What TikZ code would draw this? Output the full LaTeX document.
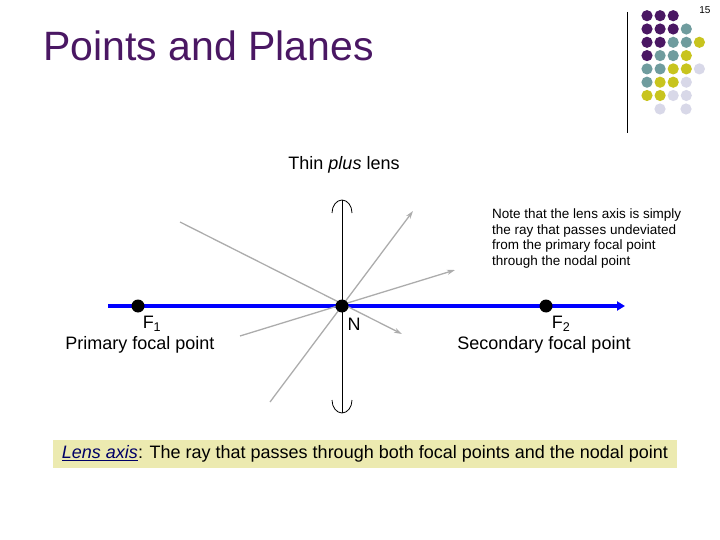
\documentclass[tikz,border=0pt]{standalone}
\usepackage{fontspec}
\setmainfont{Liberation Sans}
\usetikzlibrary{arrows.meta}
\begin{document}
\begin{tikzpicture}[x=1pt,y=-1pt,
  ray/.style={draw=gray!65,line width=1.3pt,-{Stealth[length=8pt,width=5pt]}},
  pt/.style={circle,fill=black,inner sep=0pt,minimum size=13pt},
  lbl/.style={font=\fontsize{18}{20}\selectfont,inner sep=0pt}]
\definecolor{cP}{HTML}{4A1763}\definecolor{cT}{HTML}{6F9C9E}
\definecolor{cY}{HTML}{C8C41E}\definecolor{cL}{HTML}{D8D8E8}
\useasboundingbox (0,0) rectangle (720,540);
\node[anchor=north east,font=\fontsize{10}{11}\selectfont] (pg) at (714,3) {15};
\node[anchor=west,text=cP,font=\fontsize{41}{44}\selectfont,inner sep=0pt] (title) at (43,46) {Points and Planes};
\draw[line width=0.8pt] (627,12) -- (627,133);
\foreach \r/\row in {0/{P,P,P},1/{P,P,P,T},2/{P,P,T,T,Y},3/{P,T,T,Y},4/{T,T,Y,Y,L},5/{T,Y,Y,L},6/{Y,Y,L,L}}{
  \foreach \c [count=\i from 0] in \row {
    \fill[c\c] ({647+13.1*\i},{15.7+13.3*\r}) circle (5.6);
  }
}
\fill[cL] (660,109) circle (5.6);
\fill[cL] (686,109) circle (5.6);
\node[lbl] (thin) at (344,165) {Thin \textit{plus} lens};
\node[anchor=north west,align=left,font=\fontsize{13.5}{15.5}\selectfont,inner sep=0pt] (note) at (492,209) {Note that the lens axis is simply\\the ray that passes undeviated\\from the primary focal point\\through the nodal point};
\coordinate (a0) at (108,306); \coordinate (a1) at (625,306);
\draw[blue,line width=3.5pt,-{Triangle[length=8pt,width=9pt]}] (a0) -- (a1);
\coordinate (lt) at (342,200); \coordinate (lb) at (342,413);
\draw[line width=0.8pt] (lt) -- (lb);
\draw[line width=0.8pt] (332,213) arc[start angle=180,end angle=360,x radius=10,y radius=13];
\draw[line width=0.8pt] (332,400) arc[start angle=180,end angle=0,x radius=10,y radius=13];
\coordinate (r1s) at (180,222); \coordinate (r1e) at (402,334);
\coordinate (r2s) at (240,336); \coordinate (r2e) at (455,270);
\coordinate (r3s) at (270,402); \coordinate (r3e) at (413,211);
\draw[ray] (r1s) -- (r1e);
\draw[ray] (r2s) -- (r2e);
\draw[ray] (r3s) -- (r3e);
\node[pt] (F1) at (138,306) {};
\node[pt] (N) at (342,306) {};
\node[pt] (F2) at (546,306) {};
\node[lbl] (f1l) at (152,324) {F\textsubscript{1}};
\node[lbl] (f1t) at (140,345) {Primary focal point};
\node[lbl] (nl) at (354,324) {N};
\node[lbl] (f2l) at (561,324) {F\textsubscript{2}};
\node[lbl] (f2t) at (544,345) {Secondary focal point};
\node[lbl,fill=cY!35!white,minimum width=624pt,minimum height=28pt] (box) at (365,454)
  {\textcolor{blue!40!black}{\textit{\underline{Lens axis}}}: The ray that passes through both focal points and the nodal point};
\end{tikzpicture}
\end{document}
